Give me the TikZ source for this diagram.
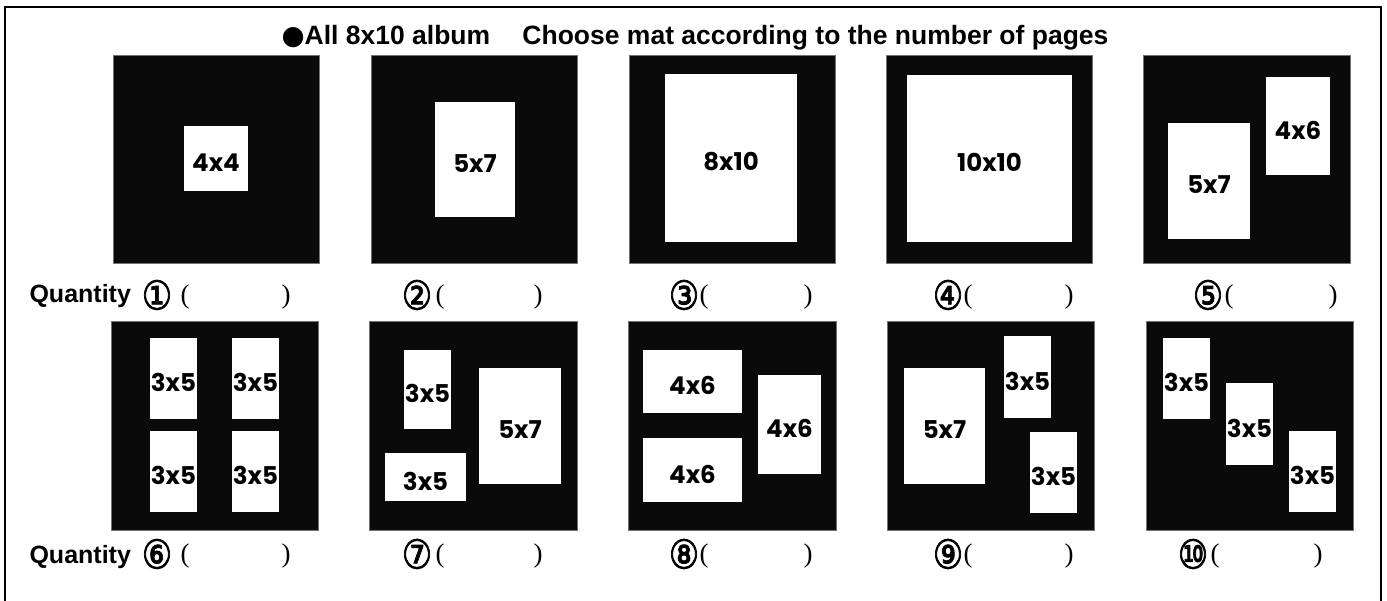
\documentclass[tikz,border=0pt]{standalone}
\usepackage{fontspec}
\setmainfont{Liberation Sans}
\newfontfamily\matfont{Poppins}
\newfontfamily\symfont{DejaVu Sans}
\newfontfamily\numfont{DejaVu Sans}[FakeBold=2]
\newfontfamily\parenfont{Liberation Serif}
\usetikzlibrary{fit}
\definecolor{matblack}{HTML}{0A0A0A}
\newcommand{\photo}[4]{\node[photo, fit={#2 #3}] (#1) {};
  \node[phototext] at (#1) {#4};}

\begin{document}
\begin{tikzpicture}[x=1pt, y=-1pt,
    mat/.style={fill=matblack, draw=black!55, line width=0.4pt, inner sep=0pt},
    photo/.style={fill=white, inner sep=0pt},
    phototext/.style={inner sep=0pt, yshift=-4pt, font=\matfont\bfseries\fontsize{24.5}{25}\selectfont},
    head/.style={font=\bfseries\fontsize{26.5}{30}\selectfont},
    num/.style={font=\numfont\fontsize{40}{40}\selectfont, xscale=0.85, inner sep=0pt},
    paren/.style={font=\parenfont\fontsize{27}{30}\selectfont, inner sep=0pt}]
  \useasboundingbox (0,0) rectangle (1387,601);
  \draw[line width=1.6pt] (5,7) rectangle (1381,606);

  \node[head, anchor=base west] (title1) at (278,45) {{\symfont ●}All 8x10 album};
  \node[head, anchor=base east] (title2) at (1112,45) {Choose mat according to the number of pages};

  % first row of mats
  \node[mat, fit={(113,55) (319,263)}] (m1) {};
  \photo{p1}{(184,126)}{(248,191)}{4x4}
  \node[mat, fit={(371,55) (577,263)}] (m2) {};
  \photo{p2}{(435,102)}{(515,217)}{5x7}
  \node[mat, fit={(629,55) (835,263)}] (m3) {};
  \photo{p3}{(665,74)}{(797,242)}{8x10}
  \node[mat, fit={(886,55) (1092,263)}] (m4) {};
  \photo{p4}{(907,75)}{(1072,242)}{10x10}
  \node[mat, fit={(1143,55) (1350,263)}] (m5) {};
  \photo{p5a}{(1168,123)}{(1250,239)}{5x7}
  \photo{p5b}{(1266,77)}{(1330,175)}{4x6}

  % second row of mats
  \node[mat, fit={(111,321) (318,530)}] (m6) {};
  \photo{p6a}{(150,338)}{(197,419)}{3x5}
  \photo{p6b}{(232,338)}{(279,419)}{3x5}
  \photo{p6c}{(150,431)}{(197,512)}{3x5}
  \photo{p6d}{(232,431)}{(279,512)}{3x5}
  \node[mat, fit={(369,321) (577,530)}] (m7) {};
  \photo{p7a}{(404,350)}{(451,429)}{3x5}
  \photo{p7b}{(479,368)}{(561,484)}{5x7}
  \photo{p7c}{(385,453)}{(466,501)}{3x5}
  \node[mat, fit={(628,321) (836,530)}] (m8) {};
  \photo{p8a}{(643,350)}{(742,413)}{4x6}
  \photo{p8b}{(643,438)}{(742,502)}{4x6}
  \photo{p8c}{(758,375)}{(821,474)}{4x6}
  \node[mat, fit={(887,321) (1094,530)}] (m9) {};
  \photo{p9a}{(904,368)}{(985,484)}{5x7}
  \photo{p9b}{(1004,336)}{(1051,418)}{3x5}
  \photo{p9c}{(1030,432)}{(1077,513)}{3x5}
  \node[mat, fit={(1146,321) (1353,530)}] (m10) {};
  \photo{p10a}{(1163,338)}{(1210,419)}{3x5}
  \photo{p10b}{(1226,383)}{(1273,465)}{3x5}
  \photo{p10c}{(1289,431)}{(1336,512)}{3x5}

  % quantity lines
  \node[head, font=\bfseries\fontsize{25}{30}\selectfont, anchor=base west] (q1) at (26,303) {Quantity};
  \node[head, font=\bfseries\fontsize{25}{30}\selectfont, anchor=base west] (q2) at (26,563) {Quantity};
  \foreach \i/\sym/\cx/\lx/\rx/\cy in {1/①/157/185/286/295, 2/②/417/440/538/295,
      3/③/684/704/808/295, 4/④/948/968/1069/295, 5/⑤/1208/1229/1333/295,
      6/⑥/157/185/286/554, 7/⑦/417/440/538/554, 8/⑧/684/704/808/554,
      9/⑨/948/968/1069/554, 10/⑩/1193/1215/1318/554}{
    \node[num] (n\i) at (\cx,\cy) {\sym};
    \node[paren] (lp\i) at (\lx,\cy+2) {(};
    \node[paren] (rp\i) at (\rx,\cy+2) {)};
  }
\end{tikzpicture}
\end{document}
